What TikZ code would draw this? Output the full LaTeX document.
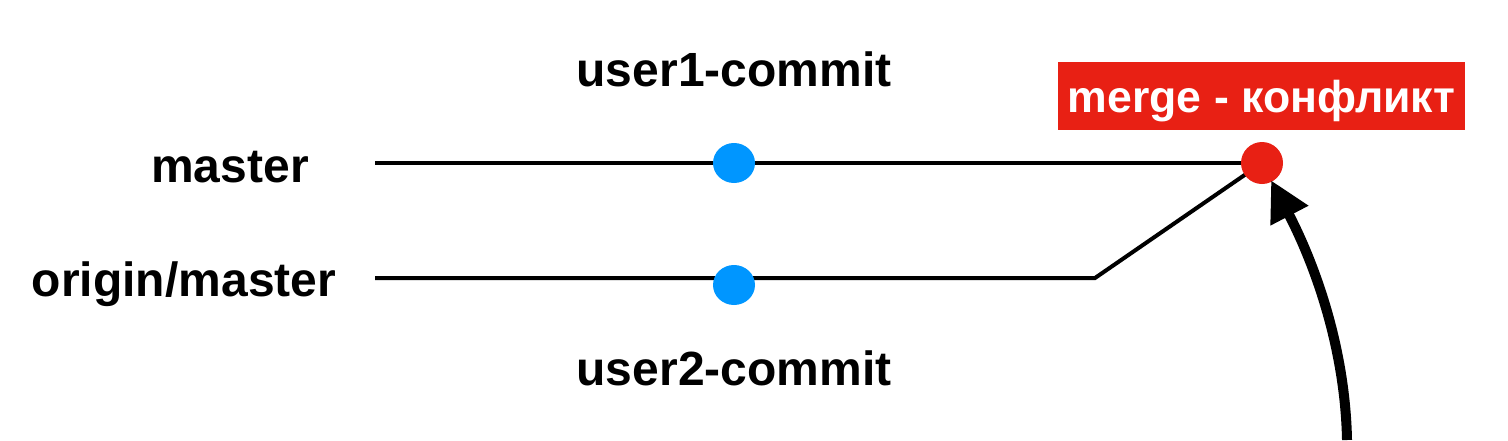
\documentclass[tikz,border=0pt]{standalone}
\usepackage{fontspec}
\setmainfont{Liberation Sans}
\usetikzlibrary{arrows.meta,backgrounds,shapes.geometric}
\definecolor{dotblue}{RGB}{0,150,255}
\definecolor{mergered}{RGB}{232,32,20}
\begin{document}
\begin{tikzpicture}[x=0.5pt,y=-0.5pt,
  lbl/.style={font=\fontsize{24}{28}\selectfont\bfseries, inner sep=0pt, anchor=base},
  commitdot/.style={ellipse, fill=dotblue, minimum width=21pt, minimum height=20pt, inner sep=0pt},
  mergedot/.style={circle, fill=mergered, minimum size=21pt, inner sep=0pt},
  branch/.style={line width=2pt, black},
  tag/.style={fill=mergered, text=white, font=\fontsize{22.3}{26}\selectfont\bfseries, minimum width=203.5pt, minimum height=34pt, inner sep=0pt, text depth=0pt},
  bigarrow/.style={line width=5pt, -{Triangle[length=20pt,width=20pt]}, shorten >=-1pt}
]
\useasboundingbox (0,0) rectangle (1508,440);
% labels
\node[lbl] (tmaster) at (230,182) {master};
\node[lbl] (torigin) at (184,296) {origin/master};
\node[lbl] (tu1) at (734,86) {user1-commit};
\node[lbl] (tu2) at (734,385) {user2-commit};
\node[tag] (conflict) at (1261.5,96) {merge - конфликт};
% points
\coordinate (mstart) at (375,163);
\coordinate (ostart) at (375,278);
\coordinate (obend) at (1095,278);
\coordinate (arrowstart) at (1347,440);
% dots
\node[commitdot] (m1) at (734,163) {};
\node[commitdot] (o1) at (734,285) {};
\node[mergedot] (merge) at (1262,163) {};
% lines behind dots
\begin{scope}[on background layer]
  \draw[branch] (mstart) -- (merge.center);
  \draw[branch] (ostart) -- (obend) -- (merge.center);
\end{scope}
% arrow
\draw[bigarrow] (arrowstart) .. controls (1345,340) and (1310,255) .. (merge);
\end{tikzpicture}
\end{document}
